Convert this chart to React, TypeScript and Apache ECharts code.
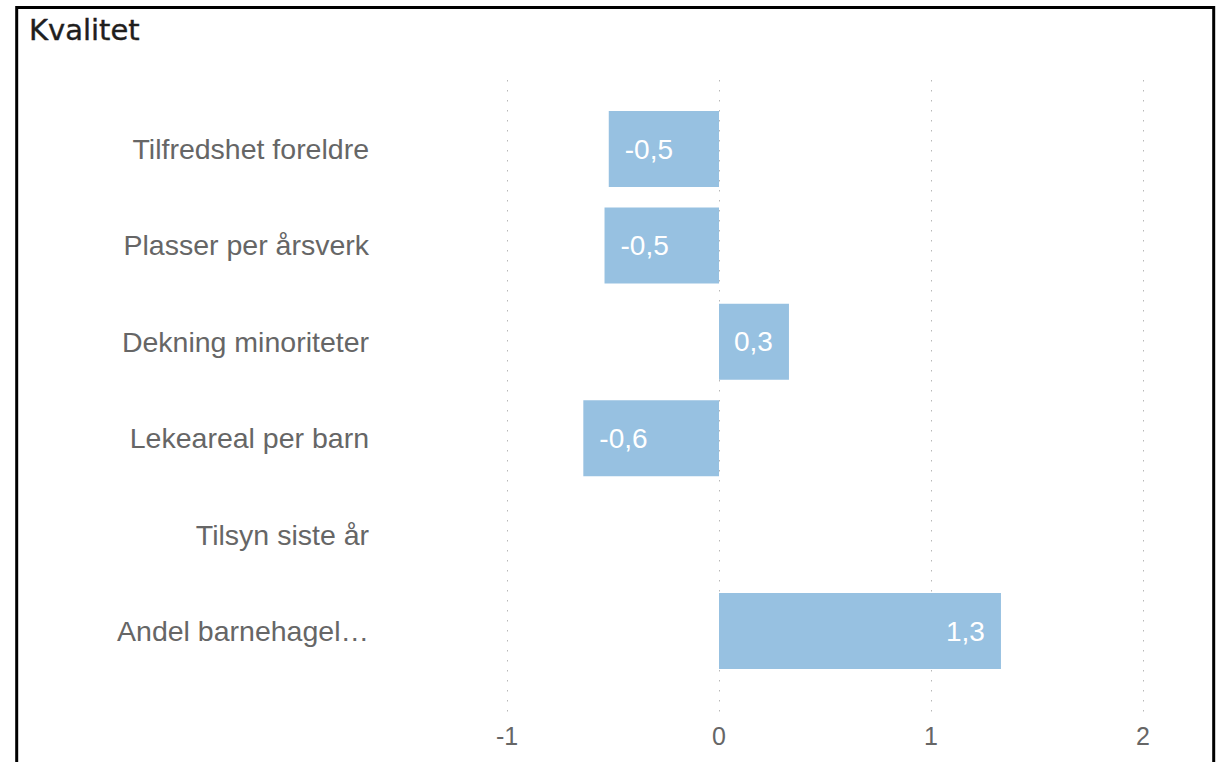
import React, { useEffect, useRef } from "react";
import * as echarts from "echarts";

const categories = [
  "Tilfredshet foreldre",
  "Plasser per årsverk",
  "Dekning minoriteter",
  "Lekeareal per barn",
  "Tilsyn siste år",
  "Andel barnehagel…",
];
const values: (number | null)[] = [-0.52, -0.54, 0.33, -0.64, null, 1.33];
const xTicks = [-1, 0, 1, 2];
const title = "Kvalitet";

const fmt = (v: number) => v.toFixed(1).replace(".", ",");

export default function App() {
  const ref = useRef<HTMLDivElement>(null);
  useEffect(() => {
    if (!ref.current) return;
    const chart = echarts.init(ref.current, null, { renderer: "svg" });
    const left = 507;
    const right = 1218 - 1143;
    chart.setOption({
      animation: false,
      graphic: [
        {
          type: "rect",
          shape: { x: 16.7, y: 7.6, width: 1197, height: 800 },
          style: { fill: "none", stroke: "#000", lineWidth: 3 },
          silent: true,
        },
        {
          type: "text",
          x: 29,
          y: 30,
          style: {
            text: title,
            fontFamily: "DejaVu Sans",
            fontSize: 29,
            fill: "#1f1e1d",
            stroke: "#1f1e1d",
            lineWidth: 0.4,
            verticalAlign: "middle",
            align: "left",
          },
        },
      ],
      grid: [
        { left, right, top: 100.8, height: 578.4 },
        { left, right, top: 80, height: 633 },
      ],
      xAxis: [
        {
          gridIndex: 0,
          type: "value",
          min: xTicks[0],
          max: xTicks[xTicks.length - 1],
          interval: 1,
          show: false,
          splitLine: { show: false },
        },
        {
          gridIndex: 1,
          type: "value",
          min: xTicks[0],
          max: xTicks[xTicks.length - 1],
          interval: 1,
          axisLine: { show: false },
          axisTick: { show: false },
          axisLabel: {
            fontFamily: "Liberation Sans, Arial, sans-serif",
            fontSize: 25,
            color: "#666666",
            margin: 10,
            formatter: (v: number) => String(v),
          },
          splitLine: {
            show: true,
            lineStyle: { color: "#b8b8b8", width: 1, type: [1.5, 8.5] },
          },
        },
      ],
      yAxis: [
        {
          gridIndex: 0,
          type: "category",
          inverse: true,
          data: categories,
          axisLine: { show: false },
          axisTick: { show: false },
          splitLine: { show: false },
          axisLabel: {
            fontFamily: "Liberation Sans, Arial, sans-serif",
            fontSize: 28.5,
            color: "#666666",
            margin: 138,
          },
        },
        {
          gridIndex: 1,
          type: "value",
          show: false,
          splitLine: { show: false },
        },
      ],
      series: [
        {
          type: "bar",
          xAxisIndex: 0,
          yAxisIndex: 0,
          barWidth: 76,
          itemStyle: { color: "#97C1E1" },
          data: values.map((v) => ({
            value: v,
            label: {
              show: v !== null,
              position: v !== null && v < 0 ? "insideLeft" : "insideRight",
              distance: 16,
              color: "#ffffff",
              fontFamily: "Liberation Sans, Arial, sans-serif",
              fontSize: 28,
              formatter: (p: any) => fmt(p.value),
            },
          })),
        },
      ],
    });
    return () => chart.dispose();
  }, []);
  return (
    <div
      ref={ref}
      style={{ position: "fixed", left: 0, top: 0, width: 1218, height: 762, background: "#fff" }}
    />
  );
}
